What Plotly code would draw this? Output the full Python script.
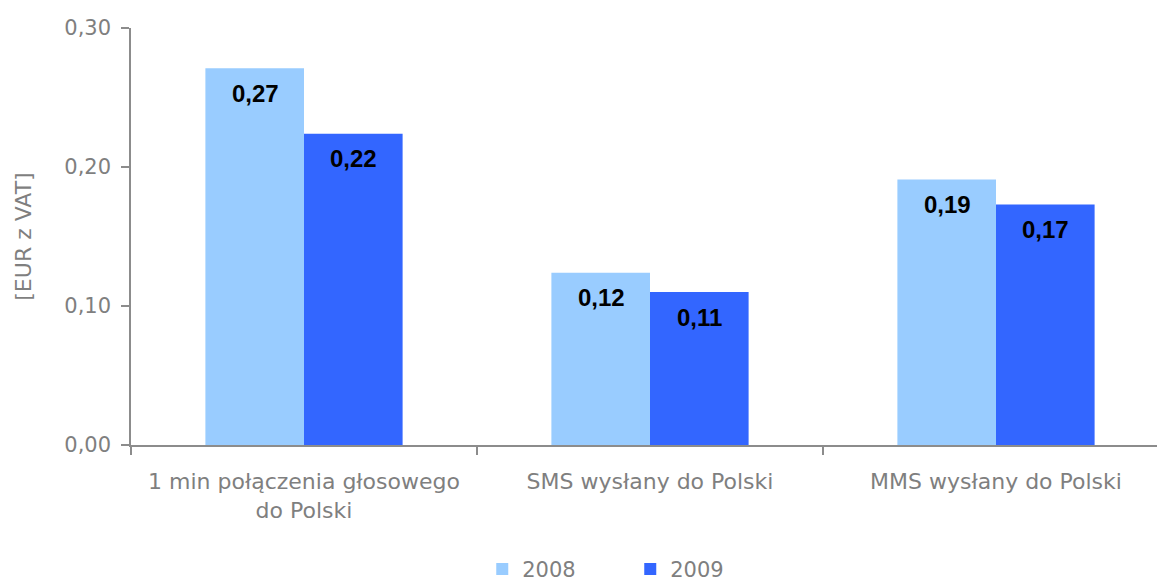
import plotly.graph_objects as go

# Average retail prices of roaming services (EUR incl. VAT)
categories = ["1 min połączenia głosowego<br>do Polski", "SMS wysłany do Polski", "MMS wysłany do Polski"]
years = ["2008", "2009"]
values_2008 = [0.271, 0.124, 0.191]
values_2009 = [0.224, 0.110, 0.173]
y_ticks = [0.0, 0.1, 0.2, 0.3]

colors = {"2008": "#99CCFF", "2009": "#3366FF"}
gray = "#7f7f7f"
axis_gray = "#8c8c8c"

fig = go.Figure()
series = {"2008": values_2008, "2009": values_2009}
for yr in years:
    fig.add_trace(go.Bar(
        x=categories, y=series[yr], name=yr,
        marker=dict(color=colors[yr], line=dict(width=0)),
        hoverinfo="skip",
    ))

# value labels placed just below the top of each bar
offsets = {"2008": -49, "2009": 49}
annotations = []
for yr in years:
    for cat, v in zip(categories, series[yr]):
        annotations.append(dict(
            x=cat, y=v, xref="x", yref="y",
            text="<b>" + f"{v:.2f}".replace(".", ",") + "</b>",
            showarrow=False, xshift=offsets[yr], yshift=-25,
            yanchor="middle", xanchor="center",
            font=dict(family="Liberation Sans, Arial", size=24, color="#000000"),
        ))

fig.update_layout(
    width=1157, height=583,
    margin=dict(l=131, r=0, t=28, b=138, autoexpand=False),
    paper_bgcolor="white", plot_bgcolor="white",
    barmode="group", bargap=0.43, bargroupgap=0,
    separators=", ",
    font=dict(family="DejaVu Sans", size=21, color=gray),
    showlegend=True,
    legend=dict(
        orientation="h", x=0.4866, xanchor="center", y=-0.298, yanchor="middle",
        entrywidth=103, entrywidthmode="pixels",
        font=dict(family="DejaVu Sans", size=21, color=gray),
        bgcolor="rgba(0,0,0,0)",
    ),
    annotations=annotations,
)

fig.update_xaxes(
    type="category", range=[-0.5, 2.5 - 12 / 346],
    showline=True, linecolor=axis_gray, linewidth=1.5,
    ticks="outside", tickson="boundaries", ticklen=8, tickcolor=axis_gray, tickwidth=1.5,
    tickfont=dict(family="DejaVu Sans", size=22, color=gray),
    ticklabelstandoff=16,
    automargin=False,
    showgrid=False, zeroline=False, fixedrange=True,
)

fig.update_yaxes(
    range=[0, 0.30], tickvals=y_ticks, tickformat=".2f",
    showline=True, linecolor=axis_gray, linewidth=1.5,
    ticks="outside", ticklen=8, tickcolor=axis_gray, tickwidth=1.5,
    tickfont=dict(family="DejaVu Sans", size=21, color=gray),
    ticklabelstandoff=6,
    automargin=False,
    showgrid=False, zeroline=False, fixedrange=True,
    title=dict(text="[EUR z VAT]", font=dict(family="DejaVu Sans", size=22, color=gray), standoff=27),
)

fig.write_html("out.html", config={"displayModeBar": False})
